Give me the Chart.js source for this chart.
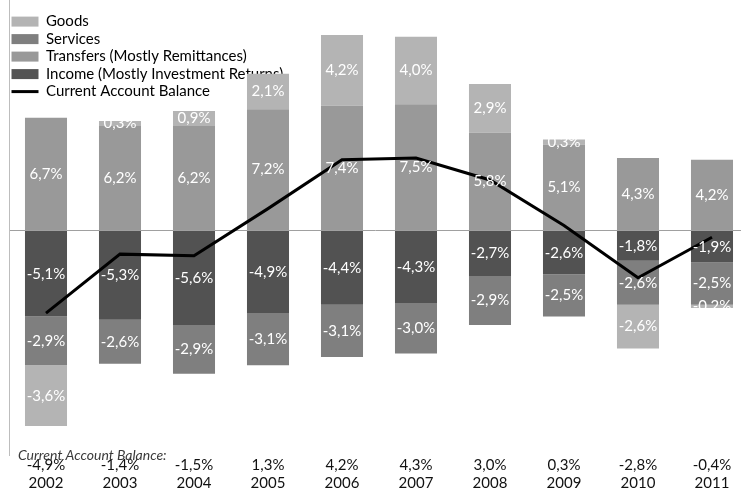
<!DOCTYPE html>
<html>
<head>
<meta charset="utf-8">
<script src="https://cdn.jsdelivr.net/npm/chart.js@4"></script>
<style>
  html, body { margin: 0; padding: 0; background: #fff; }
  #wrap { width: 741px; height: 493px; position: relative; }
</style>
</head>
<body>
<div id="wrap"><canvas id="c"></canvas></div>
<script>
const years = ['2002','2003','2004','2005','2006','2007','2008','2009','2010','2011'];
const goods = [-3.6, 0.3, 0.9, 2.1, 4.2, 4.0, 2.9, 0.3, -2.6, -0.2];
const services = [-2.9, -2.6, -2.9, -3.1, -3.1, -3.0, -2.9, -2.5, -2.6, -2.5];
const transfers = [6.7, 6.2, 6.2, 7.2, 7.4, 7.5, 5.8, 5.1, 4.3, 4.2];
const income = [-5.1, -5.3, -5.6, -4.9, -4.4, -4.3, -2.7, -2.6, -1.8, -1.9];
const balance = [-4.9, -1.4, -1.5, 1.3, 4.2, 4.3, 3.0, 0.3, -2.8, -0.4];

const fmt = v => v.toFixed(1).replace('.', ',') + '%';
const balanceLabels = balance.map(fmt);
const FONT = 'Lato, "Open Sans", sans-serif';
const firstYear = Number(years[0]);

const legendRank = {4: 0, 3: 1, 2: 2, 1: 3, 0: 4};

const barLabels = {
  id: 'barLabels',
  afterDatasetsDraw(chart) {
    const ctx = chart.ctx;
    ctx.save();
    ctx.font = '15px ' + FONT;
    ctx.fillStyle = '#ffffff';
    ctx.textAlign = 'center';
    ctx.textBaseline = 'middle';
    chart.data.datasets.forEach((ds, di) => {
      if (ds.type === 'line') return;
      const meta = chart.getDatasetMeta(di);
      meta.data.forEach((el, i) => {
        const p = el.getProps(['x', 'y', 'base'], true);
        ctx.fillText(fmt(ds.data[i]), p.x, (p.y + p.base) / 2);
      });
    });
    ctx.restore();
  }
};

const cabCaption = {
  id: 'cabCaption',
  afterDraw(chart) {
    const ctx = chart.ctx;
    ctx.save();
    ctx.font = 'italic 14px ' + FONT;
    ctx.fillStyle = '#3a3a3a';
    ctx.textAlign = 'left';
    ctx.textBaseline = 'middle';
    ctx.fillText('Current Account Balance:', 18, 455);
    ctx.restore();
  }
};

new Chart(document.getElementById('c'), {
  data: {
    labels: years,
    datasets: [
      { type: 'line', label: 'Current Account Balance', data: balance, borderColor: '#000000', backgroundColor: '#000000', borderWidth: 3, pointRadius: 0, tension: 0, pointStyle: 'line' },
      { type: 'bar', label: 'Income (Mostly Investment Returns)', data: income, backgroundColor: '#525252', pointStyle: 'rect' },
      { type: 'bar', label: 'Transfers (Mostly Remittances)', data: transfers, backgroundColor: '#999999', pointStyle: 'rect' },
      { type: 'bar', label: 'Services', data: services, backgroundColor: '#7f7f7f', pointStyle: 'rect' },
      { type: 'bar', label: 'Goods', data: goods, backgroundColor: '#b4b4b4', pointStyle: 'rect' }
    ]
  },
  options: {
    responsive: true,
    maintainAspectRatio: false,
    animation: false,
    layout: { autoPadding: false, padding: { left: 9, right: 0, top: 0, bottom: 0 } },
    datasets: { bar: { categoryPercentage: 1, barPercentage: 0.568, borderWidth: 0 } },
    plugins: {
      tooltip: { enabled: false },
      legend: {
        position: 'chartArea',
        align: 'start',
        title: { display: true, text: '', padding: 0, font: { size: 11.6, lineHeight: 1 } },
        labels: {
          usePointStyle: true,
          pointStyleWidth: 27,
          boxHeight: 10,
          padding: 2.5,
          color: '#000000',
          font: { family: FONT, size: 15 },
          sort: (a, b) => legendRank[a.datasetIndex] - legendRank[b.datasetIndex]
        }
      }
    },
    scales: {
      x: {
        type: 'linear',
        stacked: true,
        offset: false,
        min: firstYear - 0.5,
        max: firstYear + 9.392,
        afterBuildTicks: s => { s.ticks = years.map(y => ({ value: Number(y) })); },
        grid: { display: false, drawTicks: false },
        border: { display: false },
        ticks: {
          padding: 1,
          color: '#111111',
          font: { family: FONT, size: 15, lineHeight: 1.2 },
          maxRotation: 0,
          autoSkip: false,
          callback: v => { const i = Math.round(v - firstYear); return [balanceLabels[i], years[i]]; }
        }
      },
      y: {
        stacked: true,
        min: -13.32,
        max: 13.68,
        ticks: { display: false, stepSize: 2 },
        border: { display: true, color: '#bdbdbd', width: 1 },
        grid: { drawTicks: false, color: c => (c.tick && c.tick.value === 0) ? '#a0a0a0' : 'rgba(0,0,0,0)', lineWidth: 1 }
      }
    }
  },
  plugins: [barLabels, cabCaption]
});
</script>
</body>
</html>
